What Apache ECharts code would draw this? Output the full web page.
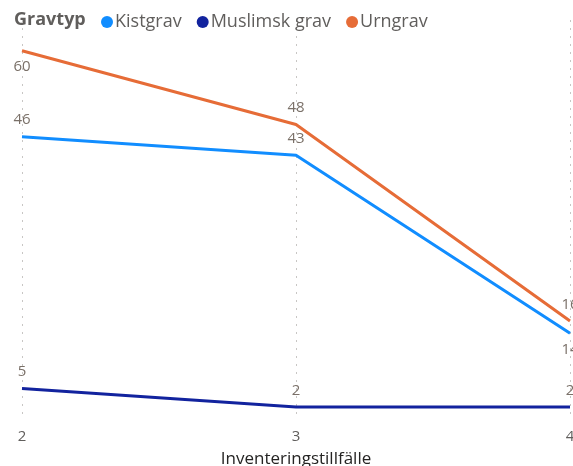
<!DOCTYPE html>
<html>
<head>
<meta charset="utf-8">
<script src="https://cdn.jsdelivr.net/npm/echarts@6/dist/echarts.min.js"></script>
<style>
html, body { margin: 0; padding: 0; background: #fff; }
#chart { width: 573px; height: 466px; }
</style>
</head>
<body>
<div id="chart"></div>
<script>
// 数据
var aTillfalle = ['2', '3', '4'];
var aKistgrav = [46, 43, 14];
var aMuslimsk = [5, 2, 2];
var aUrngrav = [60, 48, 16];

// 标签位置 (每个点)
var kistPos = ['top', 'top', 'bottom'];
var muslPos = ['top', 'top', 'top'];
var urnPos = ['bottom', 'top', 'top'];

function withPos(values, pos) {
    var out = [];
    for (var i = 0; i < values.length; i++) {
        out.push({ value: values[i], label: { position: pos[i] } });
    }
    return out;
}

var oChart = echarts.init(document.getElementById('chart'));
var font = '"Open Sans", "Noto Sans", sans-serif';
var lineSeries = function (name, color, values, pos) {
    return {
        name: name,
        type: 'line',
        symbol: 'circle',
        symbolSize: 0,
        lineStyle: { width: 3, color: color },
        itemStyle: { color: color },
        label: {
            show: true,
            distance: 9,
            color: '#7a7068',
            fontSize: 15,
            fontFamily: font
        },
        emphasis: { disabled: true },
        data: withPos(values, pos)
    };
};

var opt = {
    animation: false,
    title: {
        text: 'Gravtyp',
        left: 9,
        top: 6,
        textStyle: { fontSize: 18, fontWeight: 'bold', color: '#605E5C', fontFamily: font }
    },
    legend: {
        left: 96,
        top: 8,
        icon: 'circle',
        itemWidth: 12,
        itemHeight: 12,
        itemGap: 15,
        textStyle: { fontSize: 18, color: '#605E5C', fontFamily: font, padding: [0, 0, 0, -3] },
        data: ['Kistgrav', 'Muslimsk grav', 'Urngrav']
    },
    grid: { left: 22, right: 3, top: 20, bottom: 46.7, outerBoundsMode: 'none' },
    xAxis: {
        type: 'category',
        boundaryGap: false,
        data: aTillfalle,
        axisLine: { show: false },
        axisTick: { show: false },
        axisLabel: { color: '#605E5C', fontSize: 15, margin: 10, fontFamily: font },
        splitLine: { show: true, lineStyle: { type: [2, 6], color: '#c8c6c4', width: 1 } },
        name: 'Inventeringstillfälle',
        nameLocation: 'middle',
        nameGap: 31,
        nameTextStyle: { color: '#252423', fontSize: 17, fontFamily: font }
    },
    yAxis: {
        type: 'value',
        min: 0,
        max: 65,
        show: false,
        splitLine: { show: false }
    },
    series: [
        lineSeries('Kistgrav', '#118DFF', aKistgrav, kistPos),
        lineSeries('Muslimsk grav', '#12239E', aMuslimsk, muslPos),
        lineSeries('Urngrav', '#E66C37', aUrngrav, urnPos)
    ]
};
oChart.setOption(opt);
</script>
</body>
</html>
